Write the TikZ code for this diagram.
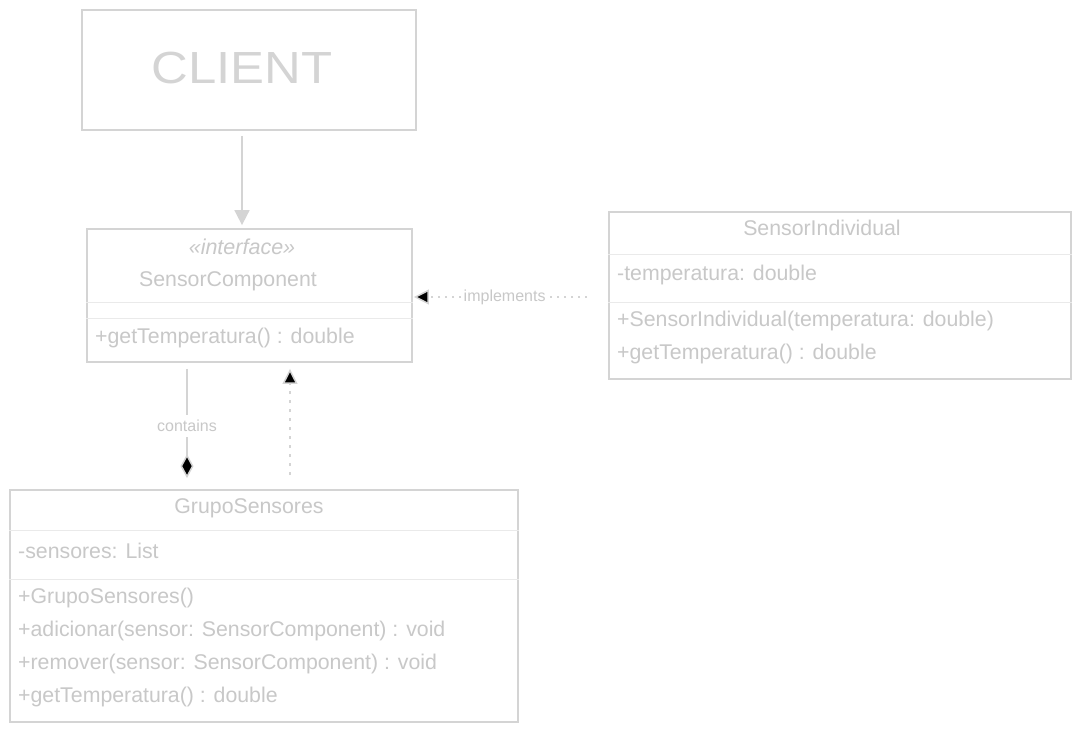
\documentclass[tikz,border=0pt]{standalone}
\usepackage{fontspec}
\setmainfont{Liberation Sans}
\usetikzlibrary{arrows.meta}
\definecolor{boxline}{RGB}{212,212,212}
\definecolor{sepline}{RGB}{234,234,234}
\definecolor{txt}{RGB}{200,200,200}
\definecolor{clienttxt}{RGB}{212,212,212}
\begin{document}
\begin{tikzpicture}[x=1pt,y=-1pt,
  box/.style={draw=boxline,line width=1.8pt,inner sep=0pt,fill=white},
  sep/.style={draw=sepline,line width=1pt},
  mtext/.style={text=txt,font=\fontsize{21.3}{24}\selectfont,inner sep=0pt,text height=15pt,text depth=4pt,yshift=-2pt},
  ititle/.style={text=txt,font=\fontsize{21.5}{24}\itshape\selectfont,inner sep=0pt,text height=15pt,text depth=4pt,yshift=-2.5pt},
  small/.style={text=txt,font=\fontsize{16}{18}\selectfont,inner sep=1.5pt,fill=white},
  conn/.style={draw=boxline,line width=1.8pt},
  dotline/.style={draw=boxline,line width=1.8pt,dash pattern=on 2pt off 5pt},
  dotvline/.style={draw=boxline,line width=1.8pt,dash pattern=on 3pt off 6pt},
  blacktri/.style={-{Triangle[length=15pt,width=15pt,fill=black,line width=1.5pt,sep=0pt]}}
]
\useasboundingbox (0,0) rectangle (1081,732);

% CLIENT
\node[box,minimum width=334pt,minimum height=120pt] (client) at (249,70) {};
\node[text=clienttxt,font=\fontsize{45}{50}\selectfont,inner sep=0pt] (clientlabel) at (242,68) {\scalebox{1.13}[1]{CLIENT}};

% SensorComponent
\node[box,minimum width=325pt,minimum height=133pt] (sc) at (249.5,295.5) {};
\draw[sep] (sc.west |- 0,302) -- (sc.east |- 0,302);
\draw[sep] (sc.west |- 0,318) -- (sc.east |- 0,318);
\node[ititle] (scst) at (242,246) {«interface»};
\node[mtext] (sctitle) at (228,279) {SensorComponent};
\node[mtext,anchor=west] (scm1) at (95,336) {+getTemperatura() : double};

% SensorIndividual
\node[box,minimum width=462pt,minimum height=167pt] (si) at (840,295.5) {};
\draw[sep] (si.west |- 0,254) -- (si.east |- 0,254);
\draw[sep] (si.west |- 0,302) -- (si.east |- 0,302);
\node[mtext] (sititle) at (822,228) {SensorIndividual};
\node[mtext,anchor=west] (sia1) at (617,273) {-temperatura: double};
\node[mtext,anchor=west] (sim1) at (617,319) {+SensorIndividual(temperatura: double)};
\node[mtext,anchor=west] (sim2) at (617,352) {+getTemperatura() : double};

% GrupoSensores
\node[box,minimum width=508pt,minimum height=232pt] (gs) at (264,606) {};
\draw[sep] (gs.west |- 0,530) -- (gs.east |- 0,530);
\draw[sep] (gs.west |- 0,579) -- (gs.east |- 0,579);
\node[mtext] (gstitle) at (249,506) {GrupoSensores};
\node[mtext,anchor=west] (gsa1) at (18,551) {-sensores: List};
\node[mtext,anchor=west] (gsm1) at (18,596) {+GrupoSensores()};
\node[mtext,anchor=west] (gsm2) at (18,629) {+adicionar(sensor: SensorComponent) : void};
\node[mtext,anchor=west] (gsm3) at (18,662) {+remover(sensor: SensorComponent) : void};
\node[mtext,anchor=west] (gsm4) at (18,695) {+getTemperatura() : double};

% connectors
\coordinate (implrow) at (0,297);
\coordinate (contcol) at (187,0);
\coordinate (gencol) at (290,0);

\draw[conn,-{Triangle[length=15pt,width=15pt,fill=boxline]},shorten <=5pt,shorten >=3pt]
  (client.south -| clientlabel) -- (sc.north -| clientlabel);

\draw[dotline,blacktri,shorten <=21pt,shorten >=1pt]
  (si.west |- implrow) -- node[small,pos=0.53] (impllabel) {implements} (sc.east |- implrow);

\draw[dotvline,blacktri,shorten <=14pt,shorten >=6pt]
  (gs.north -| gencol) -- (sc.south -| gencol);

\draw[conn,-{Diamond[length=24pt,width=13pt,fill=black,line width=1.5pt]},shorten <=6pt,shorten >=11pt]
  (sc.south -| contcol) -- node[small,pos=0.5,inner ysep=5pt] (contlabel) {contains} (gs.north -| contcol);
\end{tikzpicture}
\end{document}
